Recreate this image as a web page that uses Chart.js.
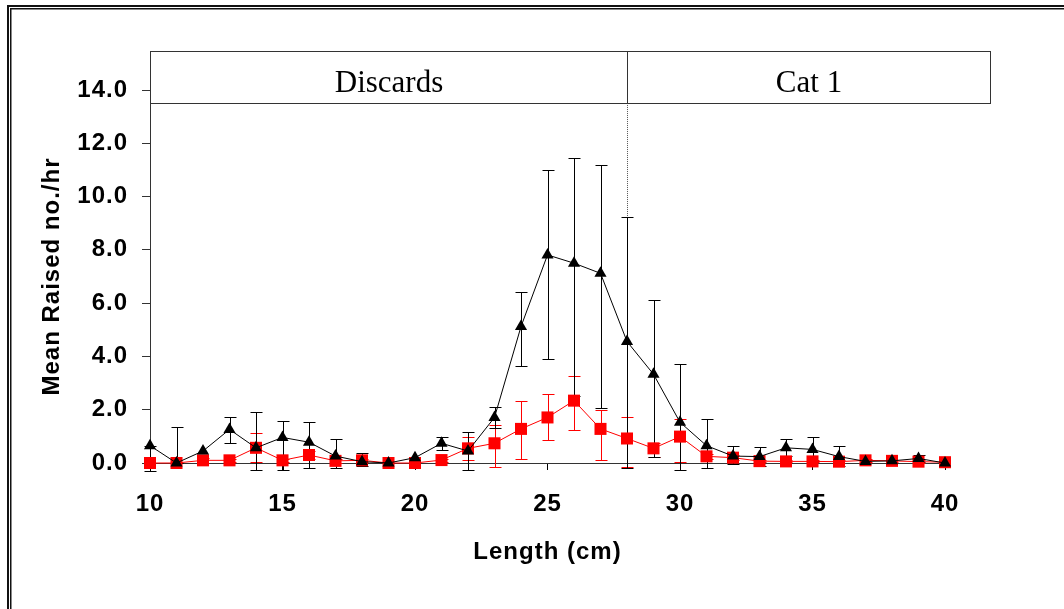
<!DOCTYPE html>
<html>
<head>
<meta charset="utf-8">
<script src="https://cdn.jsdelivr.net/npm/chart.js"></script>
<style>
  html, body { margin: 0; padding: 0; background: #fff; }
  #wrap { width: 1064px; height: 609px; position: relative; }
</style>
</head>
<body>
<div id="wrap"><canvas id="grafico" width="1064" height="609"></canvas></div>
<script>
// Data
const lengths = [10, 11, 12, 13, 14, 15, 16, 17, 18, 19, 20, 21, 22, 23, 24, 25, 26, 27, 28, 29, 30, 31, 32, 33, 34, 35, 36, 37, 38, 39, 40];

const blackMean  = [0.65, 0, 0.45, 1.26, 0.57, 0.96, 0.78, 0.26, 0.05, 0, 0.2, 0.74, 0.45, 1.71, 5.12, 7.81, 7.5, 7.12, 4.56, 3.33, 1.53, 0.65, 0.26, 0.24, 0.57, 0.51, 0.24, 0.06, 0.08, 0.17, 0];
const blackUpper = [0.65, 1.36, 0.45, 1.71, 1.93, 1.59, 1.53, 0.91, 0.37, 0, 0.2, 0.96, 1.15, 2.09, 6.43, 11.0, 11.45, 11.19, 9.25, 6.13, 3.72, 1.65, 0.65, 0.59, 0.9, 0.96, 0.65, 0.06, 0.08, 0.3, 0];
const blackLower = [-0.3, 0, 0.45, 0.74, -0.25, -0.25, -0.2, -0.2, -0.1, 0, 0.2, 0.5, -0.25, 1.3, 3.65, 3.9, 2.5, 2.05, -0.2, 0.24, -0.25, -0.2, -0.05, -0.1, 0.25, 0.06, -0.1, 0.06, 0.08, 0.05, 0];

const redMean  = [0, 0, 0.1, 0.1, 0.57, 0.1, 0.3, 0.08, 0.1, 0, 0, 0.11, 0.55, 0.74, 1.28, 1.71, 2.34, 1.28, 0.92, 0.55, 0.99, 0.25, 0.2, 0.07, 0.06, 0.06, 0.05, 0.1, 0.08, 0.05, 0.03];
const redUpper = [0, 0, 0.2, 0.15, 1.11, 0.15, 0.45, 0.15, 0.15, 0, 0, 0.15, 0.97, 1.43, 2.34, 2.59, 3.27, 2.0, 1.71, 0.75, 1.65, 0.35, 0.3, 0.1, 0.1, 0.1, 0.1, 0.15, 0.12, 0.1, 0.05];
const redLower = [0, 0, 0, 0.05, 0.03, 0.05, 0.15, 0, 0.05, 0, 0, 0.05, 0.13, -0.14, 0.15, 0.85, 1.23, 0.1, -0.14, 0.24, 0.05, 0.15, 0.1, 0.04, 0.02, 0.02, 0, 0.05, 0.04, 0, 0];

const yTicks = [0, 2, 4, 6, 8, 10, 12, 14];
const xTicks = [10, 15, 20, 25, 30, 35, 40];

// header boxes above the plot (in axis units)
const headers = [
  { text: 'Discards', from: 10, to: 28 },
  { text: 'Cat 1', from: 28, to: 41.7 }
];
const headerTop = 15.47;
const headerBottom = 13.51;

const toPoints = vals => lengths.map((l, i) => ({ x: l, y: vals[i] }));

// Outer double frame
const marco = {
  id: 'marco',
  beforeDraw(chart) {
    const ctx = chart.ctx;
    ctx.save();
    ctx.fillStyle = '#fff';
    ctx.fillRect(0, 0, chart.width, chart.height);
    ctx.fillStyle = '#111';
    ctx.fillRect(7, 5, 2, chart.height);
    ctx.fillRect(7, 5, chart.width, 2);
    ctx.fillRect(10, 8, 1.5, chart.height);
    ctx.fillRect(10, 8, chart.width, 1.5);
    ctx.restore();
    // reference text is a bit wider than plain Arial
    ctx.letterSpacing = '1px';
  }
};

// Error bars + dotted divider
const barras = {
  id: 'barras',
  beforeDatasetsDraw(chart) {
    const { ctx, scales: { x, y } } = chart;
    ctx.save();

    // dotted line at the Discards / Cat 1 split
    const sx = Math.round(x.getPixelForValue(28)) + 0.5;
    ctx.strokeStyle = '#555';
    ctx.lineWidth = 1;
    ctx.setLineDash([1, 1]);
    ctx.beginPath();
    ctx.moveTo(sx, y.getPixelForValue(headerBottom));
    ctx.lineTo(sx, y.getPixelForValue(0));
    ctx.stroke();
    ctx.setLineDash([]);

    const sets = [
      { color: '#ff0000', up: redUpper, lo: redLower },
      { color: '#000000', up: blackUpper, lo: blackLower }
    ];
    sets.forEach(s => {
      ctx.strokeStyle = s.color;
      lengths.forEach((l, i) => {
        const px = Math.round(x.getPixelForValue(l)) + 0.5;
        const top = Math.round(y.getPixelForValue(s.up[i])) + 0.5;
        const bot = Math.round(y.getPixelForValue(s.lo[i])) + 0.5;
        if (bot - top < 2) return;
        ctx.beginPath();
        ctx.moveTo(px, top); ctx.lineTo(px, bot);
        ctx.moveTo(px - 6, top); ctx.lineTo(px + 6, top);
        ctx.moveTo(px - 6, bot); ctx.lineTo(px + 6, bot);
        ctx.stroke();
      });
    });
    ctx.restore();
  },
  afterDraw(chart) {
    const { ctx, scales: { x, y } } = chart;
    ctx.save();
    ctx.letterSpacing = '0px';
    const t = Math.round(y.getPixelForValue(headerTop)) + 0.5;
    const b = Math.round(y.getPixelForValue(headerBottom)) + 0.5;
    ctx.strokeStyle = '#333';
    ctx.lineWidth = 1;
    ctx.fillStyle = '#000';
    ctx.font = '31px "Liberation Serif", "Times New Roman", serif';
    ctx.textAlign = 'center';
    ctx.textBaseline = 'alphabetic';
    headers.forEach(h => {
      const l = Math.round(x.getPixelForValue(h.from)) + 0.5;
      const r = Math.round(x.getPixelForValue(h.to)) + 0.5;
      ctx.strokeRect(l, t, r - l, b - t);
      ctx.fillText(h.text, (l + r) / 2, b - 12);
    });
    ctx.restore();
  }
};

const fuente = { family: '"Liberation Sans", Arial, sans-serif', size: 24, weight: 'bold' };

new Chart(document.getElementById('grafico'), {
  type: 'line',
  data: {
    datasets: [
      {
        label: 'Total',
        data: toPoints(blackMean),
        borderColor: '#000',
        backgroundColor: '#000',
        borderWidth: 1,
        pointStyle: 'triangle',
        pointRadius: 7,
        pointBorderWidth: 0,
        tension: 0,
        clip: false
      },
      {
        label: 'Retained',
        data: toPoints(redMean),
        borderColor: '#ff0000',
        backgroundColor: '#ff0000',
        borderWidth: 1,
        pointStyle: 'rect',
        pointRadius: 8.5,
        pointBorderWidth: 0,
        tension: 0,
        clip: false
      }
    ]
  },
  options: {
    responsive: false,
    animation: false,
    layout: { padding: { top: 90, right: 119, left: 0, bottom: 0 } },
    plugins: { legend: { display: false }, tooltip: { enabled: false } },
    scales: {
      x: {
        type: 'linear',
        min: 10,
        max: 40,
        afterFit: s => { s.height = 146; },
        afterBuildTicks: s => { s.ticks = xTicks.map(v => ({ value: v })); },
        grid: { display: true, drawOnChartArea: false, tickLength: 7, color: '#000' },
        border: { display: true, color: '#333', width: 1 },
        ticks: { color: '#000', font: fuente, padding: 20, maxRotation: 0 },
        title: { display: true, text: 'Length (cm)', color: '#000', font: fuente, padding: { top: 0, bottom: 42 } }
      },
      y: {
        min: 0,
        max: 14,
        afterFit: s => { s.width = 150; },
        afterBuildTicks: s => { s.ticks = yTicks.map(v => ({ value: v })); },
        grid: { display: true, drawOnChartArea: false, tickLength: 8, color: '#333' },
        border: { display: true, color: '#333', width: 1 },
        ticks: { color: '#000', font: fuente, padding: 14, callback: v => v.toFixed(1) },
        title: { display: true, text: 'Mean Raised no./hr', color: '#000', font: fuente, padding: { top: 38, bottom: 0 } }
      }
    }
  },
  plugins: [marco, barras]
});
</script>
</body>
</html>
